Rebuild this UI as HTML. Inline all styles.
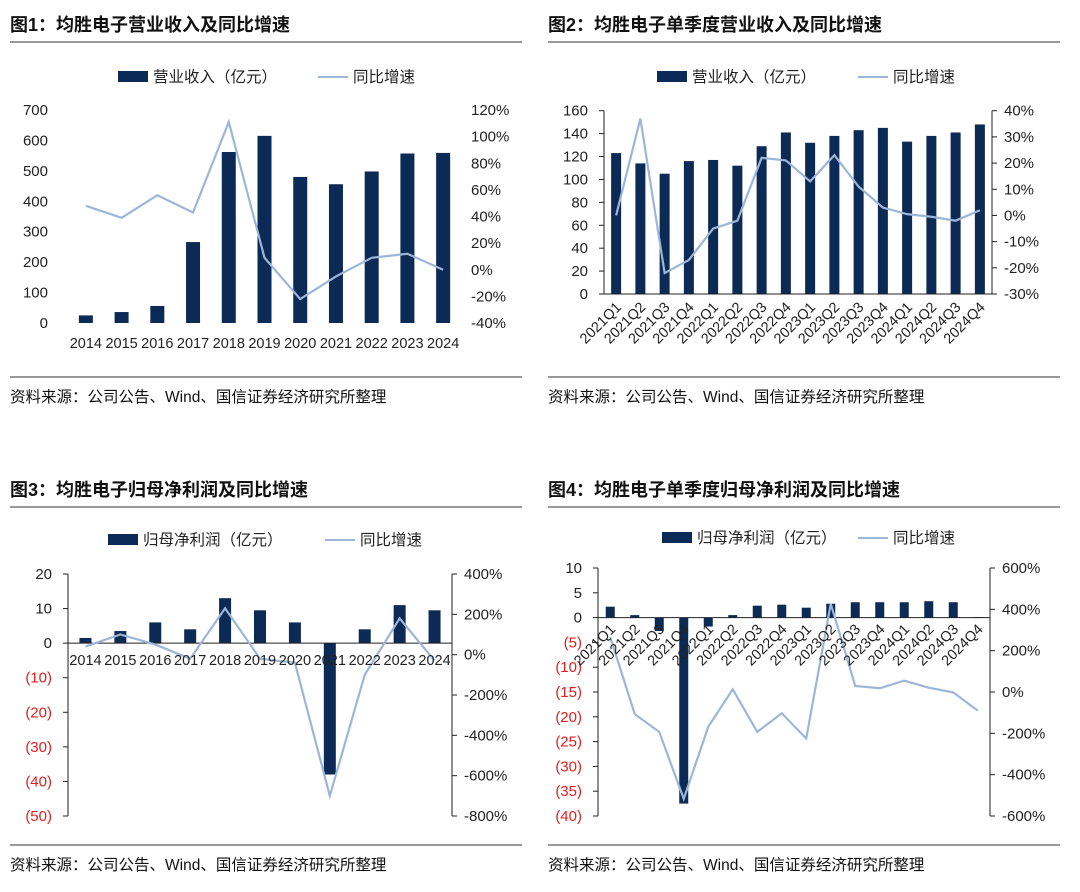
<!DOCTYPE html>
<html><head><meta charset="utf-8">
<style>
body{margin:0;background:#fff;width:1080px;height:892px;overflow:hidden;font-family:"Liberation Sans","Noto Sans CJK SC",sans-serif;}
svg{position:absolute;left:0;top:0}
</style></head>
<body>
<svg id="s" width="1080" height="892" xmlns="http://www.w3.org/2000/svg"></svg>
<script>
const years=["2014","2015","2016","2017","2018","2019","2020","2021","2022","2023","2024"];
const quarters=["2021Q1","2021Q2","2021Q3","2021Q4","2022Q1","2022Q2","2022Q3","2022Q4","2023Q1","2023Q2","2023Q3","2023Q4","2024Q1","2024Q2","2024Q3","2024Q4"];
const revYear=[25,36,56,266,562,615,480,456,498,557,559];
const revYearYoy=[48,39,56,43,111,9,-22,-5,9,12,0];
const revQ=[123,114,105,116,117,112,129,141,132,138,143,145,133,138,141,148];
const revQYoy=[0,37,-22,-17,-5,-2,22,21,13,23,11,3,0.5,-0.5,-2,2];
const npYear=[1.5,3.5,6,4,13,9.5,6,-38,4,11,9.5];
const npYearYoy=[40,100,50,-20,230,-20,-40,-700,-100,180,-30];
const npQ=[2.2,0.5,-2.7,-37.5,-1.8,0.5,2.4,2.6,2,2.8,3.1,3.1,3.1,3.3,3.1,0.1];
const npQYoy=[265,-107,-193,-517,-168,13,-193,-103,-225,427,29,18,55,21,-2,-90];
const ticks1L=["0","100","200","300","400","500","600","700"];
const ticks1R=["-40%","-20%","0%","20%","40%","60%","80%","100%","120%"];
const ticks2L=["0","20","40","60","80","100","120","140","160"];
const ticks2R=["-30%","-20%","-10%","0%","10%","20%","30%","40%"];
const ticks3L=["(50)","(40)","(30)","(20)","(10)","0","10","20"];
const ticks3R=["-800%","-600%","-400%","-200%","0%","200%","400%"];
const ticks4L=["(40)","(35)","(30)","(25)","(20)","(15)","(10)","(5)","0","5","10"];
const ticks4R=["-600%","-400%","-200%","0%","200%","400%","600%"];

const NS="http://www.w3.org/2000/svg";
const S=document.getElementById('s');
function el(t,a,p){const e=document.createElementNS(NS,t);for(const k in a)e.setAttribute(k,a[k]);(p||S).appendChild(e);return e;}
function txt(s,a,p){const e=el('text',a,p);e.textContent=s;return e;}
const BAR="#0c2a56",LINE="#9cb6d8",TXT="#222";

function chart(c){
  const g=el('g',{});
  
  
  const t=txt(c.title,{x:c.ox,y:c.ty,'font-size':18,'font-weight':'bold',fill:'#111'},g);
  
  el('line',{x1:c.ox,x2:c.ox+512,y1:c.ty+11,y2:c.ty+11,stroke:'#333','stroke-width':1},g);
  el('line',{x1:c.ox,x2:c.ox+512,y1:c.by,y2:c.by,stroke:'#333','stroke-width':1},g);
  const src=txt("资料来源：公司公告、Wind、国信证券经济研究所整理",{x:c.ox,y:c.by+25,'font-size':15.5,fill:'#111'},g);
  
  const lg=el('g',{},g);
  el('rect',{x:c.lx1,y:c.ly-6,width:30,height:11,fill:BAR},lg);
  txt(c.barLabel,{x:c.lx1+35,y:c.ly+5,'font-size':15.5,fill:TXT},lg);
  el('line',{x1:c.lx2,x2:c.lx2+30,y1:c.ly,y2:c.ly,stroke:LINE,'stroke-width':2},lg);
  txt("同比增速",{x:c.lx2+35,y:c.ly+5,'font-size':15.5,fill:TXT},lg);
  const yL=v=>c.y0+(v-c.lmin)/(c.lmax-c.lmin)*(c.y1-c.y0);
  const yR=v=>c.y0+(v-c.rmin)/(c.rmax-c.rmin)*(c.y1-c.y0);
  const n=c.cats.length,bw=(c.x1-c.x0)/n;
  const xc=i=>c.x0+bw*(i+0.5);
  c.tl.forEach((s,i)=>{const v=c.lmin+i*(c.lmax-c.lmin)/(c.tl.length-1);const y=yL(v);
    const e=txt(s,{x:c.x0-(c.axes?16:20),y:y+5,'font-size':15,fill:s[0]=='('?'#e02020':TXT,'text-anchor':'end'},g);
    
    if(c.axes)el('line',{x1:c.x0-5,x2:c.x0,y1:y,y2:y,stroke:'#222'},g);});
  c.tr.forEach((s,i)=>{const v=c.rmin+i*(c.rmax-c.rmin)/(c.tr.length-1);const y=yR(v);
    const e=txt(s,{x:c.x1+(c.axes?12:10),y:y+5,'font-size':15,fill:TXT},g);
    
    if(c.axes)el('line',{x1:c.x1,x2:c.x1+5,y1:y,y2:y,stroke:'#222'},g);});
  if(c.axes){el('line',{x1:c.x0,x2:c.x0,y1:c.y0,y2:c.y1,stroke:'#222'},g);el('line',{x1:c.x1,x2:c.x1,y1:c.y0,y2:c.y1,stroke:'#222'},g);}
  const zy=yL(0);
  c.bars.forEach((v,i)=>{const y=yL(v);
    const r=el('rect',{x:xc(i)-c.bwid/2,y:Math.min(y,zy),width:c.bwid,height:Math.max(Math.abs(zy-y),0.5),fill:BAR},g);
    });
  if(c.axes)el('line',{x1:c.x0,x2:c.x1,y1:zy,y2:zy,stroke:'#222'},g);
  const pl=el('polyline',{points:c.line.map((v,i)=>xc(i)+','+yR(v)).join(' '),fill:'none',stroke:LINE,'stroke-width':2.2},g);
  
  c.cats.forEach((s,i)=>{let e;
    if(c.rot){e=txt(s,{x:xc(i)+6,y:c.xly,'font-size':14.5,fill:TXT,'text-anchor':'end',transform:`rotate(-45 ${xc(i)+6} ${c.xly})`},g);}
    else e=txt(s,{x:xc(i),y:c.xly,'font-size':14.5,fill:TXT,'text-anchor':'middle'},g);
    });
}
chart({name:'chart-annual-revenue',title:"图1：均胜电子营业收入及同比增速",ox:10,ty:31,by:377,lx1:118,lx2:318,ly:77,barLabel:"营业收入（亿元）",
  x0:68,x1:461,y0:323,y1:110,lmin:0,lmax:700,rmin:-40,rmax:120,tl:ticks1L,tr:ticks1R,cats:years,bars:revYear,line:revYearYoy,bwid:14,xly:348,axes:false});
chart({name:'chart-quarterly-revenue',title:"图2：均胜电子单季度营业收入及同比增速",ox:548,ty:31,by:377,lx1:657,lx2:858,ly:77,barLabel:"营业收入（亿元）",
  x0:604,x1:992,y0:294,y1:110.7,lmin:0,lmax:160,rmin:-30,rmax:40,tl:ticks2L,tr:ticks2R,cats:quarters,bars:revQ,line:revQYoy,bwid:10,xly:308,rot:true,axes:true});
chart({name:'chart-annual-profit',title:"图3：均胜电子归母净利润及同比增速",ox:10,ty:496,by:845,lx1:108,lx2:325,ly:540,barLabel:"归母净利润（亿元）",
  x0:68,x1:452,y0:816,y1:574,lmin:-50,lmax:20,rmin:-800,rmax:400,tl:ticks3L,tr:ticks3R,cats:years,bars:npYear,line:npYearYoy,bwid:12,xly:665,axes:true});
chart({name:'chart-quarterly-profit',title:"图4：均胜电子单季度归母净利润及同比增速",ox:548,ty:496,by:845,lx1:662,lx2:858,ly:538,barLabel:"归母净利润（亿元）",
  x0:598,x1:990,y0:816,y1:568,lmin:-40,lmax:10,rmin:-600,rmax:600,tl:ticks4L,tr:ticks4R,cats:quarters,bars:npQ,line:npQYoy,bwid:9,xly:630,rot:true,axes:true});
</script>
</body></html>
